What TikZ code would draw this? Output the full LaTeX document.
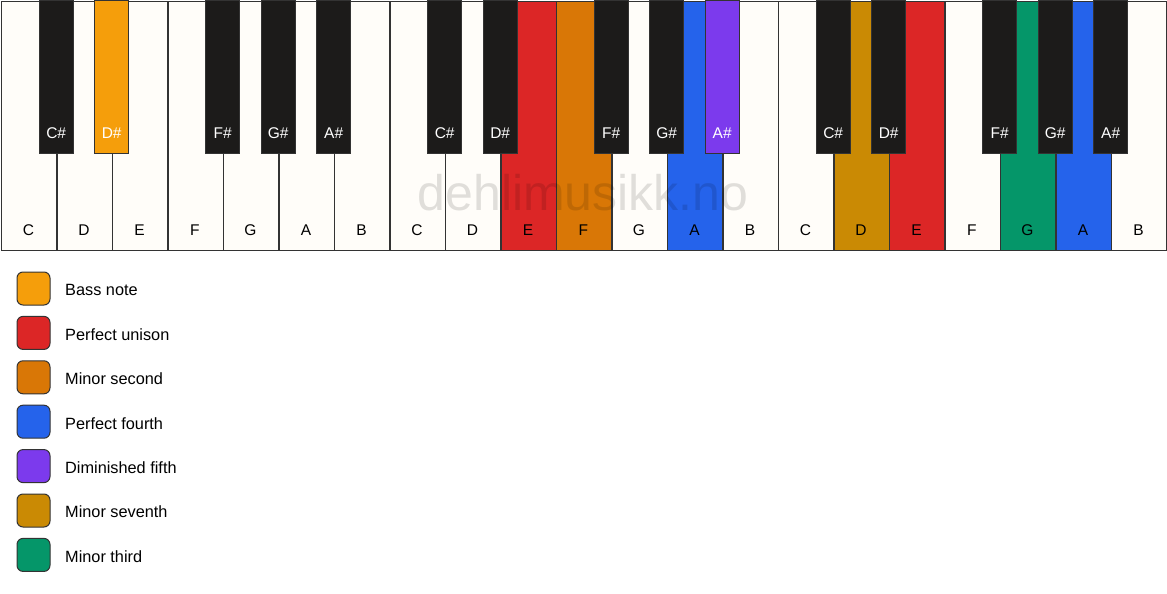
\documentclass[tikz,border=0pt]{standalone}
\usepackage{fontspec}
\setmainfont{Liberation Sans}
\definecolor{keywhite}{HTML}{FFFDF9}
\definecolor{keyblack}{HTML}{1C1B1A}
\definecolor{keyline}{HTML}{333333}
\definecolor{cbass}{HTML}{F59E0B}
\definecolor{cunison}{HTML}{DC2626}
\definecolor{cminsec}{HTML}{D97706}
\definecolor{cfourth}{HTML}{2563EB}
\definecolor{cdimfifth}{HTML}{7C3AED}
\definecolor{cminsev}{HTML}{CA8A04}
\definecolor{cminthird}{HTML}{059669}
\tikzset{
  whitekey/.style={draw=keyline, line width=1.3pt, rectangle, minimum width=55.5pt, minimum height=249pt, inner sep=0pt, anchor=north west},
  blackkey/.style={draw=keyline, line width=0.8pt, rectangle, minimum width=34pt, minimum height=153pt, inner sep=0pt, anchor=north},
  wlabel/.style={font=\fontsize{15.5}{18}\selectfont, text=black, anchor=base},
  blabel/.style={font=\fontsize{15.5}{18}\selectfont, text=white, anchor=base},
  legbox/.style={draw=keyline, line width=1pt, rounded corners=6pt, minimum size=33pt, inner sep=0pt},
  legtext/.style={font=\fontsize{16.3}{19}\selectfont, anchor=west, inner sep=0pt},
}
\begin{document}
\begin{tikzpicture}[x=1pt,y=-1pt]
\useasboundingbox[fill=white] (0,0) rectangle (1167,594);
% white keys
\def\w{55.5}
\foreach \i/\n/\c in {0/C/keywhite,1/D/keywhite,2/E/keywhite,3/F/keywhite,4/G/keywhite,5/A/keywhite,6/B/keywhite,
  7/C/keywhite,8/D/keywhite,9/E/cunison,10/F/cminsec,11/G/keywhite,12/A/cfourth,13/B/keywhite,
  14/C/keywhite,15/D/cminsev,16/E/cunison,17/F/keywhite,18/G/cminthird,19/A/cfourth,20/B/keywhite}{
  \node[whitekey, fill=\c] (w\i) at ({0.7+\i*\w},0.7) {};
  \node[wlabel] (wl\i) at ({0.7+(\i+0.5)*\w},235.5) {\n};
}
% watermark
\node[font=\fontsize{50}{54}\selectfont, text=black, opacity=0.12] (wm) at (583,193) {dehlimusikk.no};
% black keys
\foreach \i/\n/\c in {1/C\#/keyblack,2/D\#/cbass,4/F\#/keyblack,5/G\#/keyblack,6/A\#/keyblack,
  8/C\#/keyblack,9/D\#/keyblack,11/F\#/keyblack,12/G\#/keyblack,13/A\#/cdimfifth,
  15/C\#/keyblack,16/D\#/keyblack,18/F\#/keyblack,19/G\#/keyblack,20/A\#/keyblack}{
  \node[blackkey, fill=\c] (b\i) at ({0.7+\i*\w},0) {};
  \node[blabel] (bl\i) at ({0.7+\i*\w},138.5) {\n};
}
% legend
\foreach \k/\c/\t in {0/cbass/Bass note,1/cunison/Perfect unison,2/cminsec/Minor second,3/cfourth/Perfect fourth,4/cdimfifth/Diminished fifth,5/cminsev/Minor seventh,6/cminthird/Minor third}{
  \node[legbox, fill=\c] (lb\k) at (33.5,{288.5+\k*44.4}) {};
  \node[legtext] (lt\k) at (65,{290+\k*44.4}) {\t};
}
\end{tikzpicture}
\end{document}
